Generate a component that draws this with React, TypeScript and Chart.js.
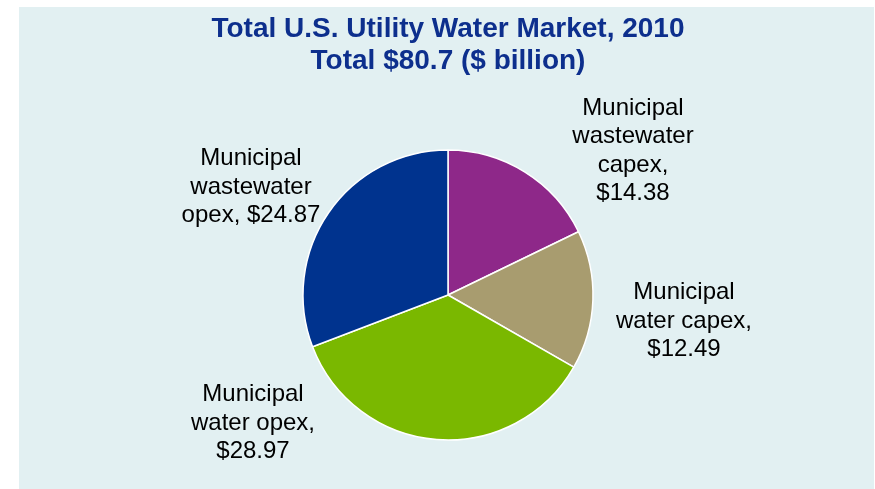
import React, { useEffect, useRef } from "react";
import { Chart, registerables } from "chart.js";

Chart.register(...registerables);

// ---- data ----
const categories = [
  "Municipal wastewater capex",
  "Municipal water capex",
  "Municipal water opex",
  "Municipal wastewater opex",
];
const values = [14.38, 12.49, 28.97, 24.87];
// label text lines; the value is appended to the last line
const labelLines = [
  ["Municipal", "wastewater", "capex,", "$"],
  ["Municipal", "water capex,", "$"],
  ["Municipal", "water opex,", "$"],
  ["Municipal", "wastewater", "opex, $"],
];
const titleLines = [
  "Total U.S. Utility Water Market, 2010",
  "Total $80.7 ($ billion)",
];

// ---- styles ----
const sliceColors = ["#8E2889", "#A89C6F", "#7AB800", "#00338E"];
const panelBg = "#E2F0F2";
const titleColor = "#0D2F8D";
const fontFamily = "'Liberation Sans', Arial, Helvetica, sans-serif";
// label block centre offsets from pie centre (px)
const labelOffsets = [
  [185, -144],
  [236, 26],
  [-195, 128],
  [-197, -108],
];

const labelPlugin = {
  id: "sliceLabels",
  afterDatasetsDraw(chart: any) {
    const meta = chart.getDatasetMeta(0);
    const ctx = chart.ctx;
    const lh = 28.5;
    ctx.save();
    ctx.font = `24px ${fontFamily}`;
    ctx.fillStyle = "#000000";
    ctx.textAlign = "center";
    ctx.textBaseline = "middle";
    meta.data.forEach((arc: any, i: number) => {
      const lines = labelLines[i].slice();
      lines[lines.length - 1] = lines[lines.length - 1] + values[i].toFixed(2);
      const cx = arc.x + labelOffsets[i][0];
      const cy = arc.y + labelOffsets[i][1];
      const start = cy - ((lines.length - 1) * lh) / 2;
      lines.forEach((t: string, j: number) => ctx.fillText(t, cx, start + j * lh));
    });
    ctx.restore();
  },
};

export default function App() {
  const ref = useRef<HTMLCanvasElement>(null);
  useEffect(() => {
    if (!ref.current) return;
    const chart = new Chart(ref.current, {
      type: "pie",
      data: {
        labels: categories,
        datasets: [
          {
            data: values,
            backgroundColor: sliceColors,
            borderColor: "#FFFFFF",
            borderWidth: 1.5,
          },
        ],
      },
      options: {
        responsive: false,
        animation: false,
        radius: 145,
        layout: { padding: { left: 3, right: 0, top: 0, bottom: 0 } },
        plugins: {
          legend: { display: false },
          tooltip: { enabled: false },
          title: {
            display: true,
            text: titleLines,
            color: titleColor,
            font: { family: fontFamily, size: 28, weight: "bold", lineHeight: 1.125 },
            padding: { top: 7, bottom: 24 },
          },
        },
      } as any,
      plugins: [labelPlugin],
    });
    return () => chart.destroy();
  }, []);
  return (
    <div style={{ position: "fixed", left: 0, top: 0, width: 875, height: 489, background: "#FFFFFF" }}>
      <div style={{ position: "absolute", left: 19, top: 7, width: 855, height: 482, background: panelBg }}>
        <canvas ref={ref} width={855} height={482} style={{ width: 855, height: 482, display: "block" }} />
      </div>
    </div>
  );
}
